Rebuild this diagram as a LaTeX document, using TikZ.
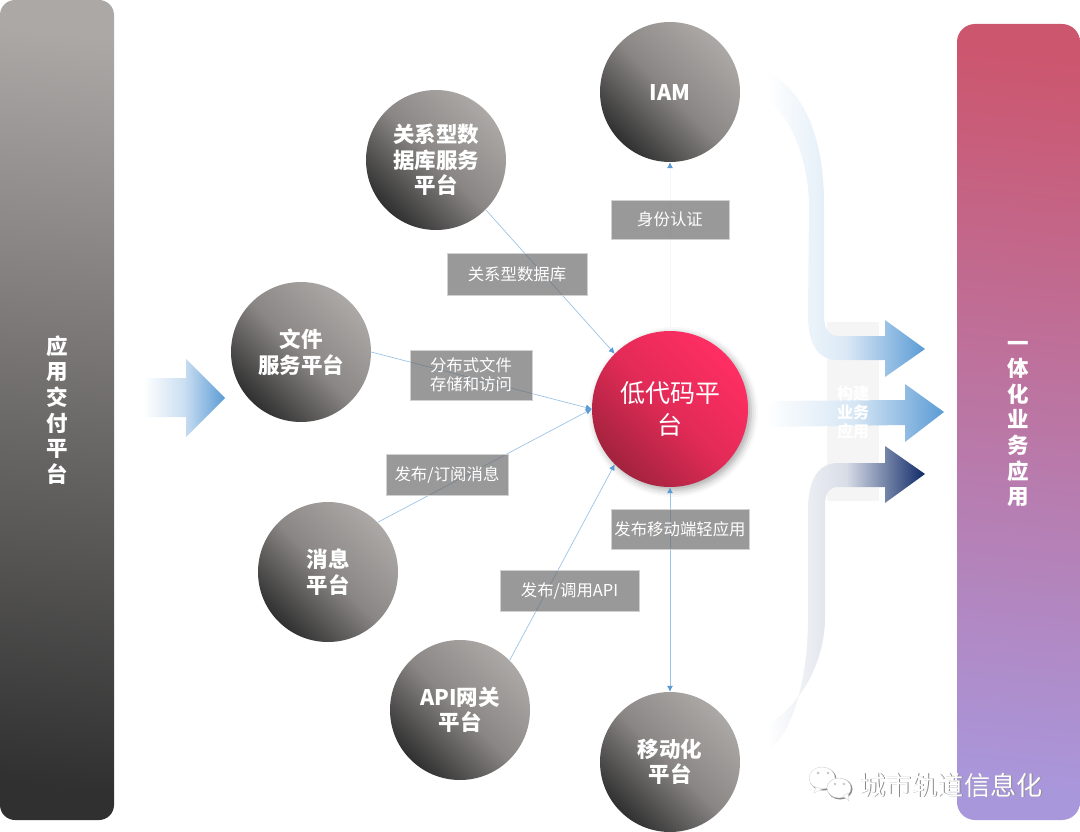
\documentclass[tikz,border=0pt]{standalone}
\usepackage{fontspec}
\setmainfont{Noto Sans CJK SC}
\usetikzlibrary{arrows.meta,shadows.blur}
\definecolor{ballhi}{HTML}{ACA8A6}
\definecolor{balllo}{HTML}{303030}
\definecolor{redhi}{HTML}{FF2E63}
\definecolor{redlo}{HTML}{A2233D}
\definecolor{lnk}{HTML}{9CC3E6}
\definecolor{tipc}{HTML}{5B9BD5}
\definecolor{tagc}{HTML}{6D6D6D}
\definecolor{bluear}{HTML}{5B9BD5}
\definecolor{navyar}{HTML}{0F2A68}
\definecolor{barhi}{HTML}{CC566E}
\definecolor{barlo}{HTML}{A997DC}
\definecolor{wmsh}{HTML}{8A8A8A}
\tikzset{
  ball/.style={circle,minimum size=140pt,inner sep=0pt,align=center,text=white,
    font=\fontsize{21.5}{25.5}\selectfont\bfseries,
    top color=ballhi,bottom color=balllo,middle color=ballhi!72!balllo,shading angle=-45},
  lowball/.style={circle,minimum size=156pt,inner sep=0pt,align=center,text=white,
    font=\fontsize{25}{32}\selectfont,
    top color=redhi,bottom color=redlo,middle color=redhi!70!redlo,shading angle=-45,
    blur shadow={shadow xshift=3pt,shadow yshift=-3pt,shadow blur radius=7pt,shadow opacity=35}},
  tagbox/.style 2 args={minimum width=#1,minimum height=#2,inner sep=0pt,align=center,text=white,
    fill=tagc,fill opacity=.7,text opacity=1,draw=black!18,draw opacity=1,line width=.6pt,
    font=\fontsize{16.4}{19}\selectfont},
  oneline/.style={text height=14pt,text depth=2pt},
  lnkline/.style={draw=lnk,line width=.7pt,-{Latex[length=6pt,width=6pt,color=tipc]}},
  barword/.style={text=white,align=center,inner sep=0pt,font=\fontsize{21.5}{25.6}\selectfont\bfseries},
  wmword/.style={inner sep=0pt,anchor=west,font=\fontsize{26.2}{30}\selectfont},
}
\begin{document}
\begin{tikzpicture}[x=1pt,y=-1pt]
\useasboundingbox (0,0) rectangle (1080,832);
% side bars
\shade[top color=ballhi,bottom color=balllo,shading angle=-6,rounded corners=15pt] (0,0) rectangle (114,820);
\shade[top color=barhi,bottom color=barlo,shading angle=-6,rounded corners=18pt] (957,24) rectangle (1080,820);
\node[barword] (leftword) at (57,410) {应\\用\\交\\付\\平\\台};
\node[barword] (rightword) at (1018,424) {一\\体\\化\\业\\务\\应\\用};
% panel behind the arrows
\fill[black!4] (827,322) rectangle (879,501);
% input arrow
\shade[left color=white,right color=bluear,middle color=bluear!32!white]
  (143,378) -- (186,378) -- (186,359) -- (225,398) -- (186,437) -- (186,417) -- (143,417) -- cycle;
% upper curved arrow
\shade[left color=white,right color=bluear,middle color=bluear!22!white]
  (767,72) .. controls (805,90) and (824,140) .. (824,203) -- (824,314)
  .. controls (824,328) and (828,336) .. (838,336) -- (885,336) -- (885,320) -- (925,349) -- (885,377) -- (885,360) -- (838,360)
  .. controls (818,360) and (808,345) .. (808,314) -- (809,207)
  .. controls (809,160) and (790,115) .. (767,100) -- cycle;
% middle arrow
\shade[left color=white,right color=bluear,middle color=bluear!25!white]
  (766,401) -- (905,400) -- (905,384) -- (944,412) -- (905,442) -- (905,425) -- (766,427) -- cycle;
% lower curved arrow
\shade[left color=white,right color=navyar,middle color=navyar!16!white]
  (838,463) -- (885,463) -- (885,446) -- (925,474) -- (885,503) -- (885,487) -- (838,487)
  .. controls (829,487) and (825,494) .. (825,505) -- (825,618)
  .. controls (825,660) and (802,705) .. (767,725) -- (767,752)
  .. controls (792,735) and (808,680) .. (808,618) -- (808,510)
  .. controls (808,480) and (818,463) .. (838,463) -- cycle;
\node[text=white,align=center,inner sep=0pt,font=\fontsize{16}{19}\selectfont\bfseries] (buildword) at (853,412) {构建\\业务\\应用};
% balls
\node[ball] (iam) at (670,92) {IAM};
\node[ball] (rel) at (436,160) {关系型数\\据库服务\\平台};
\node[ball] (file) at (301,352) {文件\\服务平台};
\node[ball] (msg) at (328,572) {消息\\平台};
\node[ball] (api) at (460,710) {API网关\\平台};
\node[ball] (mob) at (670,762) {移动化\\平台};
\node[lowball] (low) at (670,409) {低代码平\\台};
% connectors
\draw[lnkline] (rel.south east) -- (low.north west);
\draw[lnkline] (file.east) -- (low.west);
\draw[lnkline] (msg.north east) -- (low.west);
\draw[lnkline] (api.north east) -- (low.south west);
\draw[lnkline,{Latex[length=6pt,width=6pt,color=tipc]}-{Latex[length=6pt,width=6pt,color=tipc]}] (low.south) -- (mob.north);
\draw[lnkline,draw=lnk!12] (low.north) -- (iam.south);
% connector labels
\node[tagbox={118pt}{39pt},oneline] (t1) at (670,219.5) {身份认证};
\node[tagbox={140pt}{42pt},oneline] (t2) at (517,274) {关系型数据库};
\node[tagbox={122pt}{50pt}] (t3) at (471,375) {分布式文件\\存储和访问};
\node[tagbox={122pt}{41pt},oneline] (t4) at (447,474.5) {发布/订阅消息};
\node[tagbox={139pt}{41pt},oneline] (t5) at (569.5,590.5) {发布/调用API};
\node[tagbox={138pt}{40pt},oneline] (t6) at (680,529) {发布移动端轻应用};
% watermark
\begin{scope}[shift={(1,1)}]
  \fill[wmsh] (822,778) ellipse (13.5 and 11.5);
  \fill[wmsh] (839,788) ellipse (12.5 and 10.5);
\end{scope}
\fill[white,draw=black!15,line width=.4pt] (822,778) ellipse (13 and 11);
\fill[white,draw=black!15,line width=.4pt] (816,787) -- (814,793) -- (822,789) -- cycle;
\fill[white,draw=black!20,line width=.4pt] (839,788) ellipse (12 and 10);
\fill[white,draw=black!15,line width=.4pt] (843,796) -- (849,801) -- (848,793) -- cycle;
\fill[black!22] (818,773) circle (1.5);
\fill[black!22] (828,773) circle (1.5);
\fill[black!22] (835,784) circle (1.4);
\fill[black!22] (844,784) circle (1.4);
\node[wmword,text=wmsh] (wm2) at (859.8,785.8) {城市轨道信息化};
\node[wmword,text=white] (wm) at (859,785) {城市轨道信息化};
\end{tikzpicture}
\end{document}
